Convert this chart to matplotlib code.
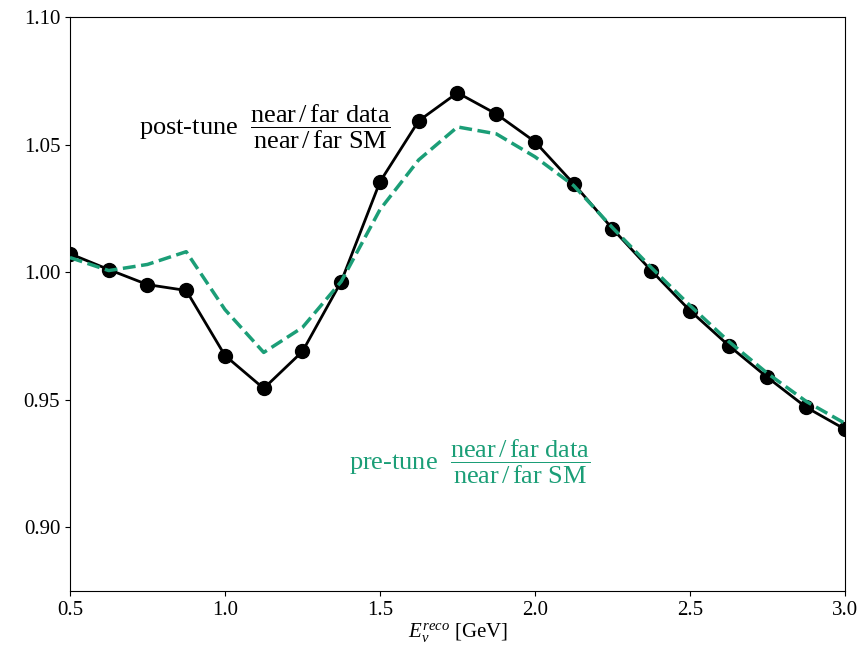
import numpy as np
from matplotlib import pyplot as plt

# energy bins [GeV]
energy = [0.5, 0.625, 0.75, 0.875, 1.0, 1.125, 1.25, 1.375, 1.5, 1.625, 1.75,
          1.875, 2.0, 2.125, 2.25, 2.375, 2.5, 2.625, 2.75, 2.875, 3.0]

# post-tune ratio
post_tune = [1.0072, 1.0010, 0.9951, 0.9928, 0.9673, 0.9544, 0.9689, 0.9963,
             1.0354, 1.0593, 1.0703, 1.0620, 1.0511, 1.0346, 1.0170, 1.0006,
             0.9849, 0.9712, 0.9587, 0.9470, 0.9384]

# pre-tune ratio
pre_tune = [1.0057, 1.0006, 1.0030, 1.0080, 0.9853, 0.9685, 0.9783, 0.9963,
            1.0245, 1.0440, 1.0569, 1.0542, 1.0452, 1.0339, 1.0174, 1.0018,
            0.9869, 0.9728, 0.9603, 0.9493, 0.9407]

green = "#1b9e77"

plt.rcParams["font.family"] = ["Liberation Serif", "DejaVu Serif"]
plt.rcParams["mathtext.fontset"] = "custom"
plt.rcParams["mathtext.rm"] = "Liberation Serif"
plt.rcParams["mathtext.it"] = "Liberation Serif:italic"

fig = plt.figure(figsize=(8.68, 6.56), dpi=100)
ax = fig.add_axes([0.0806, 0.0991, 0.8929, 0.8750])

ax.plot(energy, pre_tune, color=green, ls="--", lw=2.5, zorder=3)
ax.plot(energy, post_tune, color="black", lw=2, marker="o", ms=10, zorder=2)

frac = r"$\dfrac{\mathrm{near\,/\,far\ data}}{\mathrm{near\,/\,far\ SM}}$"
ax.text(1.13, 1.057, "post-tune  " + frac, fontsize=19, ha="center", va="center")
ax.text(1.79, 0.9258, "pre-tune  " + frac, fontsize=19, ha="center", va="center",
        color=green)

ax.set_xlim(0.5, 3.0)
ax.set_ylim(0.875, 1.10)
ax.set_xticks([0.5, 1.0, 1.5, 2.0, 2.5, 3.0])
ax.set_yticks([0.90, 0.95, 1.00, 1.05, 1.10])
ax.tick_params(labelsize=15)
ax.set_xlabel(r"$E_\nu^{reco}$ [GeV]", fontsize=15, labelpad=1)

fig.savefig("out.png", dpi=100)
